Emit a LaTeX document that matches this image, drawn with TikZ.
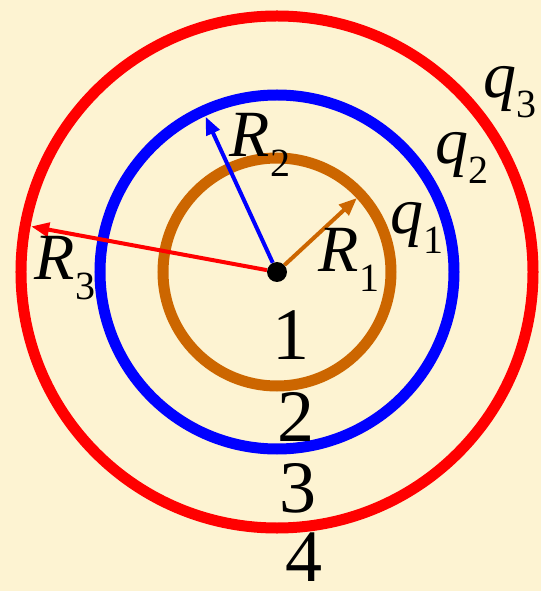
\documentclass[tikz,border=0pt]{standalone}
\usepackage{fontspec}
\setmainfont{Liberation Serif}
\usetikzlibrary{arrows.meta}
\definecolor{paper}{RGB}{253,243,210}
\definecolor{copper}{RGB}{204,102,0}
\newcommand{\symsub}[2]{{\itshape #1}\raisebox{-0.3em}{\fontsize{40}{40}\selectfont #2}}

\begin{document}
\begin{tikzpicture}[
  x=1pt, y=1pt,
  shell/.style={line width=11pt},
  radline/.style={line width=4pt, -{Triangle[length=18pt, width=14pt]}},
  sym/.style={inner sep=0pt, font=\fontsize{66}{66}\selectfont},
  num/.style={inner sep=0pt, font=\fontsize{74}{74}\selectfont}
]
% background
\fill[paper] (-277,-319) rectangle (264,272);
\useasboundingbox (-277,-319) rectangle (264,272);
% three shells
\draw[shell, red] (0,0) circle (256);
\draw[shell, blue] (0,0) circle (177);
\draw[shell, copper] (0,0) circle (114);
% centre and radii
\node[circle, fill=black, inner sep=0pt, minimum size=20pt] (O) at (0,0) {};
\coordinate (t1) at (42.8:109);
\coordinate (t2) at (114.7:171);
\coordinate (t3) at (169.5:250);
\draw[radline, copper] (O) -- (t1);
\draw[radline, blue] (O) -- (t2);
\draw[radline, red] (O) -- (t3);
% labels
\node[sym] (R1) at (72,12) {\symsub{R}{1}};
\node[sym] (R2) at (-17,127) {\symsub{R}{2}};
\node[sym] (R3) at (-212,4) {\symsub{R}{3}};
\node[sym] (q1) at (140,44) {\symsub{q}{1}};
\node[sym] (q2) at (185,114) {\symsub{q}{2}};
\node[sym] (q3) at (233,180) {\symsub{q}{3}};
% regions
\node[num] (n1) at (14,-63) {1};
\node[num] (n2) at (19,-145) {2};
\node[num] (n3) at (21,-216) {3};
\node[num] (n4) at (27,-285) {4};
\end{tikzpicture}
\end{document}
